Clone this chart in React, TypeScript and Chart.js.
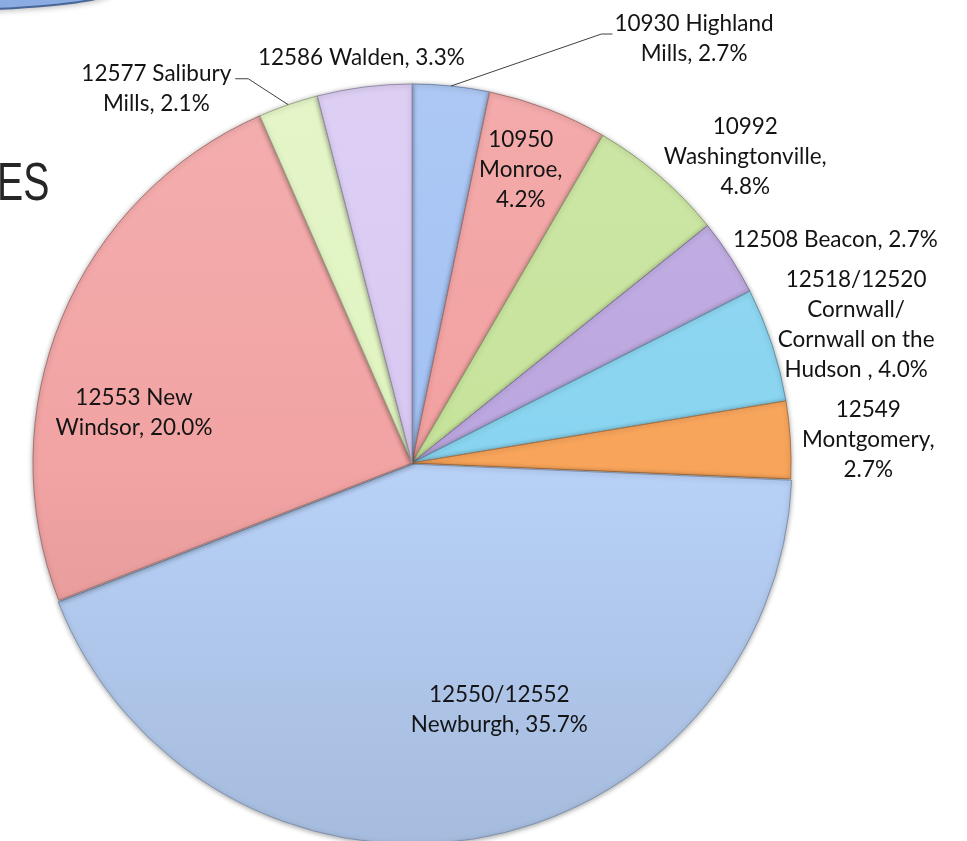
import React, { useEffect, useRef } from "react";
import { Chart, registerables } from "chart.js";

Chart.register(...registerables);

// ---- data ----
const zipCodes = ["10930", "10950", "10992", "12508", "12518/12520", "12549", "12550/12552", "12553", "12577", "12586"];
const places = [
  "Highland Mills",
  "Monroe",
  "Washingtonville",
  "Beacon",
  "Cornwall/ Cornwall on the Hudson ",
  "Montgomery",
  "Newburgh",
  "New Windsor",
  "Salibury Mills",
  "Walden",
];
const percents = [2.7, 4.2, 4.8, 2.7, 4.0, 2.7, 35.7, 20.0, 2.1, 3.3];
const sliceColors = ["#A2C1F3", "#F2A0A0", "#C6E39A", "#BBA6DF", "#88D4F0", "#F8A45A", "#B8D1F7", "#F2A3A3", "#E0F4C0", "#D8C8F2"];
const explodedIndex = 6;
const titleFragment = "ES";

// ---- label placement (polar anchor on slice mid-angle + nudge) ----
type Placement = { r: number; dx: number; dy: number; wrap: number; leader?: "left" | "right"; leaderDy?: number };
const placements: Placement[] = [
  { r: 1, dx: 243, dy: -47, wrap: 170, leader: "left", leaderDy: -5 },
  { r: 0.8, dx: 0, dy: -10, wrap: 90 },
  { r: 1, dx: 86, dy: -19, wrap: 180 },
  { r: 1, dx: 105, dy: -18, wrap: 300 },
  { r: 1, dx: 84, dy: -20, wrap: 170 },
  { r: 1, dx: 78, dy: 0, wrap: 150 },
  { r: 0.65, dx: 47, dy: 4, wrap: 200 },
  { r: 0.7, dx: -33, dy: 52, wrap: 170 },
  { r: 1, dx: -132, dy: -16, wrap: 160, leader: "right", leaderDy: -10 },
  { r: 1, dx: -3, dy: -29, wrap: 300 },
];

const LABEL_FONT = "22.5px Lato, 'Open Sans', sans-serif";
const LINE_H = 30;

function shade(hex: string, amt: number): string {
  const n = parseInt(hex.slice(1), 16);
  let r = (n >> 16) & 255, g = (n >> 8) & 255, b = n & 255;
  if (amt >= 0) {
    r = r + (255 - r) * amt; g = g + (255 - g) * amt; b = b + (255 - b) * amt;
  } else {
    r = r * (1 + amt); g = g * (1 + amt); b = b * (1 + amt);
  }
  return `rgb(${Math.round(r)},${Math.round(g)},${Math.round(b)})`;
}

function wrapText(ctx: CanvasRenderingContext2D, text: string, maxW: number): string[] {
  const words = text.split(" ").filter((w) => w.length > 0);
  const lines: string[] = [];
  let cur = "";
  for (const w of words) {
    const t = cur ? cur + " " + w : w;
    if (cur && ctx.measureText(t).width > maxW) {
      lines.push(cur);
      cur = w;
    } else cur = t;
  }
  if (cur) lines.push(cur);
  return lines;
}

const backgroundPlugin = {
  id: "pageBackground",
  beforeDraw(chart: any) {
    const ctx: CanvasRenderingContext2D = chart.ctx;
    ctx.save();
    ctx.fillStyle = "#ffffff";
    ctx.fillRect(0, 0, chart.width, chart.height);
    // cut-off slide shape at top-left
    ctx.shadowColor = "rgba(0,0,0,0.3)";
    ctx.shadowBlur = 6;
    ctx.shadowOffsetY = 2;
    ctx.beginPath();
    ctx.ellipse(-100, -8, 210, 19, 0, 0, Math.PI * 2);
    ctx.fillStyle = "#8AACE3";
    ctx.fill();
    ctx.shadowColor = "transparent";
    ctx.lineWidth = 2;
    ctx.strokeStyle = "#4A6698";
    ctx.stroke();
    // cut-off title text
    ctx.fillStyle = "#262626";
    ctx.font = "53px 'Liberation Sans', Arimo, sans-serif";
    ctx.textBaseline = "alphabetic";
    ctx.textAlign = "left";
    ctx.translate(-3, 200);
    ctx.scale(0.74, 1);
    ctx.fillText(titleFragment, 0, 0);
    ctx.restore();
  },
};

const shadowPlugin = {
  id: "pieShadow",
  beforeDatasetsDraw(chart: any) {
    const ctx = chart.ctx;
    ctx.save();
    ctx.shadowColor = "rgba(0,0,0,0.35)";
    ctx.shadowBlur = 5;
    ctx.shadowOffsetX = 0;
    ctx.shadowOffsetY = 1;
  },
  afterDatasetsDraw(chart: any) {
    chart.ctx.restore();
  },
};

const labelPlugin = {
  id: "sliceLabels",
  afterDraw(chart: any) {
    const ctx: CanvasRenderingContext2D = chart.ctx;
    const meta = chart.getDatasetMeta(0);
    ctx.save();
    ctx.font = LABEL_FONT;
    ctx.fillStyle = "#141414";
    ctx.textAlign = "center";
    ctx.textBaseline = "middle";
    meta.data.forEach((arc: any, i: number) => {
      const { x, y, startAngle, endAngle, outerRadius } = arc.getProps(["x", "y", "startAngle", "endAngle", "outerRadius"], true);
      const mid = (startAngle + endAngle) / 2;
      const p = placements[i];
      const ax = x + Math.cos(mid) * outerRadius * p.r;
      const ay = y + Math.sin(mid) * outerRadius * p.r;
      const cx = ax + p.dx;
      const cy = ay + p.dy;
      const text = `${zipCodes[i]} ${places[i]}, ${percents[i].toFixed(1)}%`;
      const lines = wrapText(ctx, text, p.wrap);
      const top = cy - ((lines.length - 1) * LINE_H) / 2;
      lines.forEach((ln, k) => ctx.fillText(ln, cx, top + k * LINE_H));
      if (p.leader) {
        const w = Math.max(...lines.map((l) => ctx.measureText(l).width));
        const ly = cy + (p.leaderDy || 0);
        const endX = p.leader === "left" ? cx - w / 2 - 2 : cx + w / 2 + 4;
        const elbowX = p.leader === "left" ? endX - 11 : endX + 13;
        ctx.beginPath();
        ctx.moveTo(ax, ay);
        ctx.lineTo(elbowX, ly);
        ctx.lineTo(endX, ly);
        ctx.strokeStyle = "#404040";
        ctx.lineWidth = 1;
        ctx.stroke();
      }
    });
    ctx.restore();
  },
};

export default function App() {
  const canvasRef = useRef<HTMLCanvasElement | null>(null);

  useEffect(() => {
    const canvas = canvasRef.current;
    if (!canvas) return;
    const chart = new Chart(canvas, {
      type: "pie",
      data: {
        labels: places,
        datasets: [
          {
            data: percents,
            backgroundColor: (c: any) => {
              const base = sliceColors[c.dataIndex % sliceColors.length];
              const area = c.chart.chartArea;
              if (!area) return base;
              const g = c.chart.ctx.createLinearGradient(0, area.top, 0, area.bottom);
              g.addColorStop(0, shade(base, 0.12));
              g.addColorStop(0.5, base);
              g.addColorStop(1, shade(base, -0.1));
              return g;
            },
            borderColor: sliceColors.map((c) => shade(c, -0.3)),
            borderWidth: 1,
            offset: percents.map((_, i) => (i === explodedIndex ? 5 : 0)),
          },
        ],
      },
      options: {
        animation: false,
        responsive: false,
        maintainAspectRatio: false,
        radius: 379,
        layout: { padding: { left: 0, right: 143, top: 85, bottom: 0 } },
        plugins: {
          legend: { display: false },
          tooltip: { enabled: false },
        },
      } as any,
      plugins: [backgroundPlugin, shadowPlugin, labelPlugin],
    });
    return () => chart.destroy();
  }, []);

  return (
    <div style={{ position: "fixed", left: 0, top: 0, width: 967, height: 841, overflow: "hidden", background: "#fff" }}>
      <canvas ref={canvasRef} width={967} height={841} style={{ display: "block" }} />
    </div>
  );
}
